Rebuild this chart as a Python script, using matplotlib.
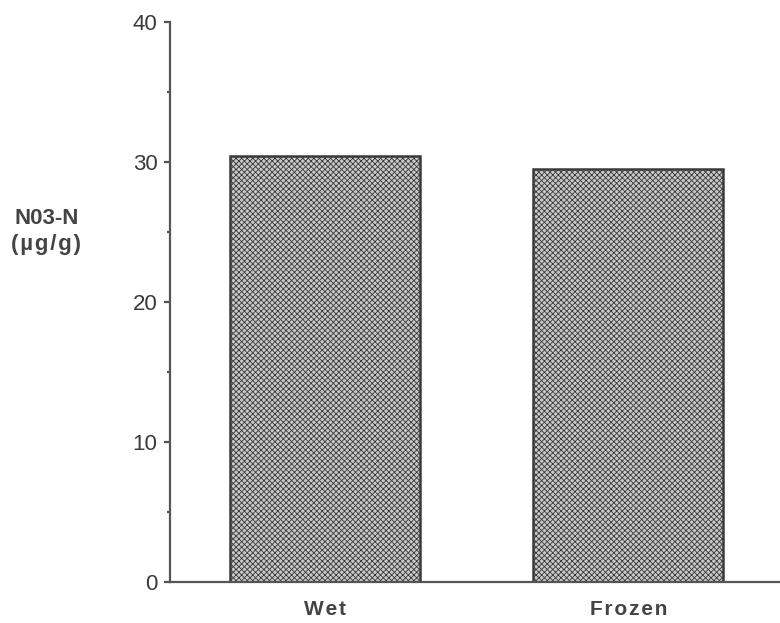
import matplotlib
matplotlib.use("Agg")
from matplotlib import pyplot as plt
from matplotlib.ticker import MultipleLocator

# data
categories = ["Wet", "Frozen"]
values = [30.4, 29.5]

plt.rcParams["font.family"] = ["Liberation Sans", "DejaVu Sans"]
plt.rcParams["hatch.color"] = "#3a3a3a"
plt.rcParams["hatch.linewidth"] = 0.6

fig = plt.figure(figsize=(7.8, 6.23), dpi=100)
ax = fig.add_axes([0.218, 0.066, 0.782, 0.899])

# bars with a dotted screen-like fill
ax.bar(range(len(categories)), values, width=0.627,
       color="#c8c8c8", edgecolor="#3a3a3a", linewidth=1.8, hatch="xxxxxx")

ax.set_xlim(-0.512, 1.50)
ax.set_ylim(0, 40)

# axis styling
for side in ["top", "right"]:
    ax.spines[side].set_visible(False)
for side in ["left", "bottom"]:
    ax.spines[side].set_color("#555555")
    ax.spines[side].set_linewidth(1.6)

ax.yaxis.set_major_locator(MultipleLocator(10))
ax.yaxis.set_minor_locator(MultipleLocator(5))
ax.tick_params(axis="y", which="major", length=4, width=1.6, color="#555555",
               labelsize=16, labelcolor="#3a3a3a", pad=5)
ax.tick_params(axis="y", which="minor", length=2, width=1.6, color="#555555")

# letter-spaced category labels, as in the original
spaced = ["\u200a".join(c) for c in categories]
ax.set_xticks(range(len(categories)))
ax.set_xticklabels(spaced, fontsize=15, fontweight="bold", color="#444444")
ax.tick_params(axis="x", length=0, pad=13)

unit = "\u200a".join("(µg/g)")
ax.set_ylabel("N03-N\n" + unit, rotation=0, fontsize=16, fontweight="bold",
              color="#444444", ha="center", va="center", linespacing=1.3)
ax.yaxis.set_label_coords(-0.203, 0.625)

plt.savefig("out.png", dpi=100)
